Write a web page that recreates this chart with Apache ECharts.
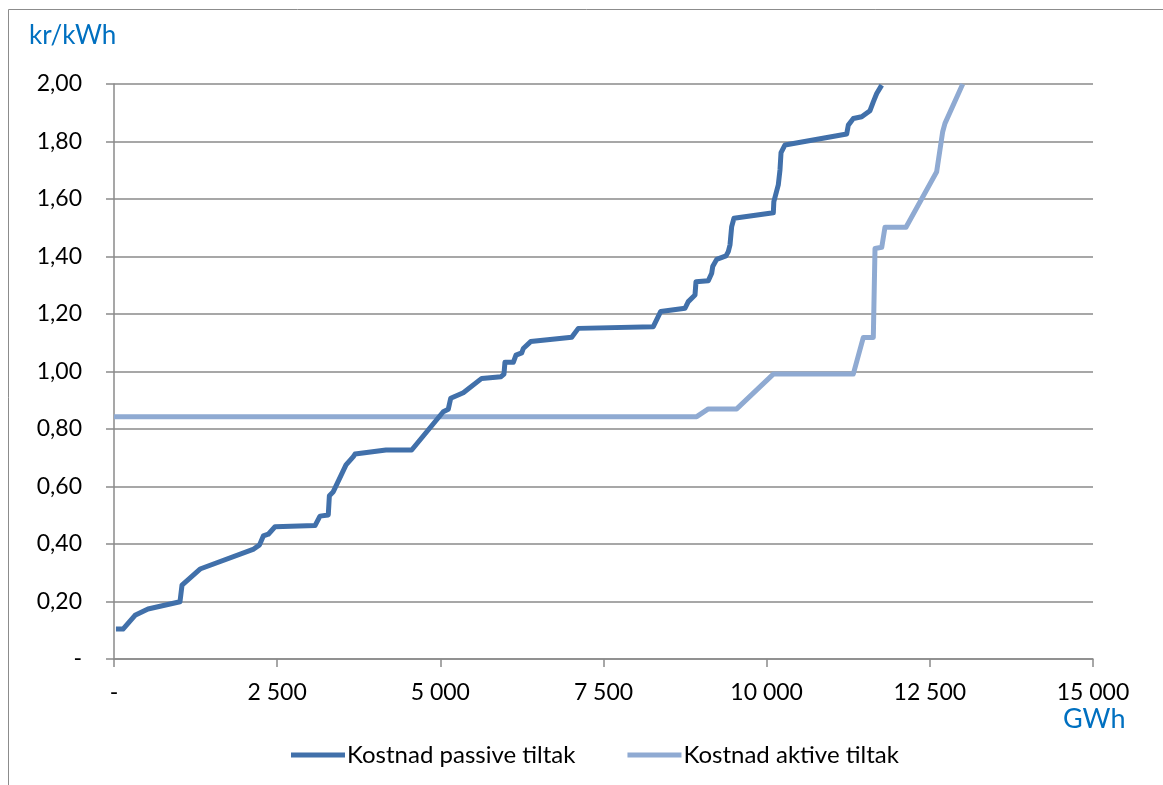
<!DOCTYPE html>
<html>
<head>
<meta charset="utf-8">
<script src="https://cdn.jsdelivr.net/npm/echarts@6/dist/echarts.min.js"></script>
<style>
  html, body { margin: 0; padding: 0; background: #ffffff; }
  #chart { width: 1163px; height: 785px; }
</style>
</head>
<body>
<div id="chart"></div>
<script>
// Kostnadskurver: akkumulert energi (GWh) mot kostnad (kr/kWh)
const passiveGWh = [30, 138, 322, 521, 1011, 1042, 1318, 2130, 2230, 2288, 2364, 2467, 3080, 3156, 3283, 3300,
  3360, 3555, 3667, 3693, 4167, 4561, 5045, 5122, 5159, 5352, 5634, 5930, 5975, 5990, 6118, 6159, 6247,
  6271, 6384, 7013, 7114, 8263, 8377, 8749, 8799, 8902, 8917, 9106, 9158, 9173, 9234, 9377, 9412, 9438,
  9464, 9499, 10102, 10110, 10178, 10204, 10220, 10281, 11226, 11251, 11328, 11456, 11583, 11634, 11686, 11763];
const passiveKr = [0.104, 0.104, 0.152, 0.174, 0.199, 0.257, 0.313, 0.381, 0.397, 0.428, 0.434, 0.460, 0.464, 0.497, 0.501, 0.568,
  0.582, 0.675, 0.704, 0.713, 0.727, 0.727, 0.860, 0.869, 0.907, 0.926, 0.976, 0.982, 0.991, 1.032, 1.032, 1.057, 1.065,
  1.080, 1.104, 1.119, 1.150, 1.156, 1.209, 1.220, 1.243, 1.266, 1.312, 1.316, 1.342, 1.365, 1.390, 1.402, 1.417, 1.440,
  1.504, 1.533, 1.552, 1.591, 1.649, 1.701, 1.761, 1.788, 1.826, 1.857, 1.880, 1.886, 1.907, 1.938, 1.967, 1.996];

const activeGWh = [0, 8928, 9106, 9541, 10102, 11327, 11480, 11634, 11660, 11763, 11813, 12135, 12605, 12697, 12732, 13004];
const activeKr = [0.843, 0.843, 0.870, 0.870, 0.991, 0.991, 1.118, 1.118, 1.428, 1.432, 1.502, 1.502, 1.695, 1.834, 1.863, 2.0];

const seriesNames = ['Kostnad passive tiltak', 'Kostnad aktive tiltak'];
const yAxisTitle = 'kr/kWh';
const xAxisTitle = 'GWh';

const pairs = (xs, ys) => xs.map((x, i) => [x, ys[i]]);

const FONT = 'Lato, "Open Sans", sans-serif';
const GRID_COLOR = '#8a8a8a';

const chart = echarts.init(document.getElementById('chart'), null, { renderer: 'canvas' });

chart.setOption({
  animation: false,
  backgroundColor: '#ffffff',
  textStyle: { fontFamily: FONT },
  grid: { left: 114, right: 70, top: 84, bottom: 126, containLabel: false },
  graphic: [
    {
      type: 'rect',
      shape: { x: 8.5, y: 9.5, width: 1200, height: 820 },
      style: { fill: 'none', stroke: '#8c8c8c', lineWidth: 1 },
      silent: true
    },
    {
      type: 'text',
      left: 29, top: 23,
      style: { text: yAxisTitle, fill: '#0070C0', font: '26px ' + FONT }
    },
    {
      type: 'text',
      left: 1063, top: 706,
      style: { text: xAxisTitle, fill: '#0070C0', font: '27px ' + FONT }
    }
  ],
  legend: {
    left: 286, top: 738,
    itemWidth: 54, itemHeight: 5, itemGap: 52,
    icon: 'rect',
    textStyle: { fontSize: 24, color: '#000000', fontFamily: FONT, padding: [0, 0, 0, -3] },
    data: seriesNames
  },
  xAxis: {
    type: 'value',
    min: 0, max: 15000, interval: 2500,
    axisLine: { show: true, lineStyle: { color: GRID_COLOR, width: 1.5 } },
    axisTick: { show: true, length: 8, lineStyle: { color: GRID_COLOR, width: 1.5 } },
    splitLine: { show: false },
    axisLabel: {
      margin: 22, fontSize: 23, color: '#000000', fontFamily: FONT,
      formatter: v => v === 0 ? '-' : String(v).replace(/\B(?=(\d{3})+(?!\d))/g, ' ')
    }
  },
  yAxis: {
    type: 'value',
    min: 0, max: 2, interval: 0.2,
    axisLine: { show: true, lineStyle: { color: GRID_COLOR, width: 1.5 } },
    axisTick: { show: true, length: 8, lineStyle: { color: GRID_COLOR, width: 1.5 } },
    splitLine: { show: true, lineStyle: { color: GRID_COLOR, width: 1.5 } },
    axisLabel: {
      margin: 32, fontSize: 23, color: '#000000', fontFamily: FONT,
      formatter: v => v === 0 ? '-' : v.toFixed(2).replace('.', ',')
    }
  },
  series: [
    {
      name: seriesNames[0],
      type: 'line',
      data: pairs(passiveGWh, passiveKr),
      showSymbol: false,
      symbol: 'none',
      lineStyle: { color: '#4170AA', width: 5, join: 'round' },
      itemStyle: { color: '#4170AA' },
      z: 3
    },
    {
      name: seriesNames[1],
      type: 'line',
      data: pairs(activeGWh, activeKr),
      showSymbol: false,
      symbol: 'none',
      lineStyle: { color: '#8FAAD2', width: 5, join: 'round' },
      itemStyle: { color: '#8FAAD2' },
      z: 2
    }
  ]
});
</script>
</body>
</html>
